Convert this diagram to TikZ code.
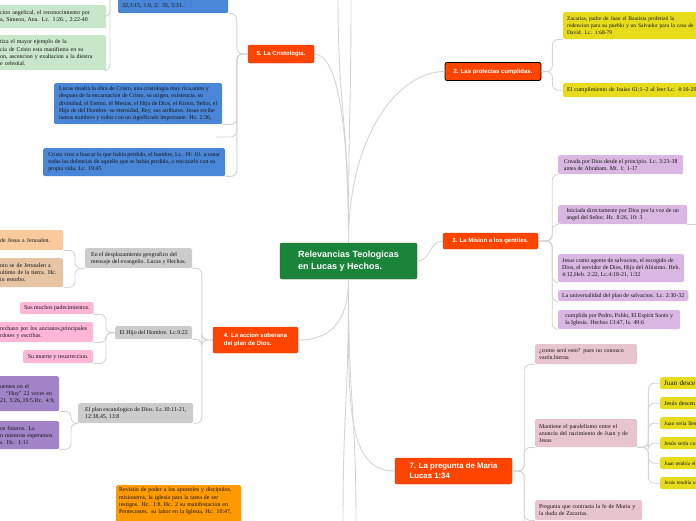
\documentclass[tikz,border=0pt]{standalone}
\usepackage{fontspec}
\setmainfont{Liberation Serif}
\newfontfamily\ramasans{Liberation Sans}
\usepackage{tikz}

\definecolor{cverde}{RGB}{26,132,58}
\definecolor{crama}{RGB}{255,68,0}
\definecolor{cazul}{RGB}{74,134,216}
\definecolor{cmenta}{RGB}{200,230,201}
\definecolor{cmelon}{RGB}{249,203,156}
\definecolor{ccanela}{RGB}{230,196,164}
\definecolor{cgris}{RGB}{204,204,204}
\definecolor{crosa}{RGB}{255,182,214}
\definecolor{cmorado}{RGB}{161,132,199}
\definecolor{cnaranja}{RGB}{255,153,0}
\definecolor{camarillo}{RGB}{230,220,28}
\definecolor{clila}{RGB}{217,183,226}
\definecolor{cmalva}{RGB}{232,196,206}
\definecolor{clinea}{RGB}{212,212,212}
\newcommand{\cardfont}{\fontsize{5.9}{7.2}\selectfont}
\newcommand{\ramafont}{\ramasans\bfseries\fontsize{6}{7.6}\selectfont}
\tikzset{
  card/.style={rectangle,rounded corners=1.5pt,draw=none,anchor=north west,
    align=left,inner xsep=4pt,inner ysep=2.5pt,font=\cardfont,text=black!92},
  rama/.style={rectangle,rounded corners=2pt,fill=crama,draw=crama!80!black,
    text=white,font=\ramafont,align=left,inner sep=3pt},
  centro/.style={rectangle,rounded corners=2pt,fill=cverde,draw=cverde!75!black,
    text=white,align=left,inner xsep=10pt,minimum width=137pt,minimum height=36pt,
    font=\ramasans\bfseries\fontsize{9}{12}\selectfont},
  conn/.style={draw=clinea,line width=0.9pt,rounded corners=6pt}
}

\begin{document}
\begin{tikzpicture}[x=1pt,y=-1pt]
  \useasboundingbox (0,0) rectangle (696,520);
  % centro y ramas principales
  \node[centro] (cen) at (348.5,261) {Relevancias Teologicas\\en Lucas y Hechos.};
  \node[rama,minimum width=66pt,minimum height=18pt] (cris) at (281,54) {5. La Cristologia.};
  \node[rama,draw=black,line width=0.8pt,minimum width=96pt,minimum height=18pt] (prof) at (493,71.5) {2. Las profecias cumplidas.};
  \node[rama,minimum width=95pt,minimum height=16pt] (mis) at (490.5,241) {3. La Mision a los gentiles.};
  \node[rama,minimum width=85pt,minimum height=26pt] (acc) at (255.5,340) {4. La accion soberana\\del plan de Dios.};
  \node[rama,font=\ramasans\bfseries\fontsize{7.8}{10}\selectfont,minimum width=117pt,minimum height=26pt] (preg) at (453.5,471) {7. La pregunta de Maria\\Lucas 1:34};

  % Cristologia
  \node[card,fill=cazul,text width=102pt,minimum height=18pt] (b0) at (118,-5) {\mbox{}\\32,3:15, 1:9, 2: 33, 5:31..};
  \node[card,fill=cazul,minimum width=168pt,minimum height=41pt] (b1) at (54,83) {Lucas resalta la obra de Cristo, una cristologia muy rica,antes y\\despues de la encarnacion de Cristo, su origen, existencia, su\\divinidad, el Eterno, el Mesias, el Hijo de Dios, el Kirios, Señor, el\\Hijo de del Hombre. su eternidad,  Rey, sus atributos.  Jesus recibe\\tantos nombres y todos con un significado importante. Hc. 2:36,};
  \node[card,fill=cazul,minimum width=182pt,minimum height=28pt] (b2) at (43,148) {Cristo vino a buscar lo que habia perdido, el hombre, Lc. 19: 10.  a sanar\\todas las dolencias de aquello que se habia perdido, a rescatarlo con su\\propia vida. Lc. 19:45};
  \coordinate (vacio) at (216,137);
  \node[card,fill=cmenta,text width=102pt,minimum height=23pt] (g1) at (-4,5) {cion angelical, el reconocimiento por\\a, Simeon, Ana. Lc. 1:26..,  2:22-40};
  \node[card,fill=cmenta,text width=102pt,minimum height=35pt] (g2) at (-4,35) {tiza el mayor ejemplo de la\\cia de Cristo esta manifiesta en su\\on, ascencion y exaltacion a la diestra\\e celestial.};

  % accion soberana
  \node[card,fill=cgris,minimum width=107pt,minimum height=20pt] (geo) at (85,248) {En el desplazamiento geografico del\\mensaje del evangelio. Lucas y Hechos.};
  \node[card,fill=cmelon,text width=59pt,minimum height=20pt] (o1) at (-4,230) {de Jesus a Jerusalen.};
  \node[card,fill=ccanela,text width=59pt,minimum height=29pt] (o2) at (-4,258) {nto se de Jerusalen a\\ultimo de la tierra. Hc.\\in estorbo.};
  \node[card,fill=cgris,minimum width=77pt,minimum height=13pt] (hijo) at (115,326) {El Hijo del Hombre. Lc.9:22};
  \node[card,fill=crosa,minimum width=73pt,minimum height=12pt] (p1) at (20,302) {Sus muchos padecimientos.};
  \node[card,fill=crosa,text width=89pt,minimum height=20pt] (p2) at (-4,322) {rechazo por los ancianos,principales\\rdotes y escribas.};
  \node[card,fill=crosa,minimum width=70pt,minimum height=13pt] (p3) at (23,350) {Su muerte y resurreccion.};
  \node[card,fill=cgris,minimum width=115pt,minimum height=20pt] (plan) at (78,403) {El plan escatologico de Dios. Lc.10:11-21,\\12:38,45, 13:8};
  \node[card,fill=cmorado,inner xsep=3pt,text width=56pt,minimum height=35pt] (u1) at (-3,376) {uentes en el\\\hspace*{6pt}“Hoy” 22 veces en\\21, 5:26,,19:5,Hc. 4:9,};
  \node[card,fill=cmorado,inner xsep=3pt,text width=56pt,minimum height=28pt] (u2) at (-3,421) {os futuros. La\\n mientras esperamos\\s. Hc. 1:11};
  \node[card,fill=cnaranja,inner xsep=3pt,text width=119pt,text depth=40pt] (rev) at (116,485) {Revistio de poder a los apostoles y discipulos,\\misioneros, la iglesia para la tarea de ser\\testigos. Hc. 1:8, Hc. 2  su manifestacion en\\Pentecostes.  su labor en  la Iglesia, Hc. 10:47,};

  % profecias
  \node[card,fill=camarillo,font=\fontsize{5.55}{7.2}\selectfont,text width=140pt,minimum height=27pt] (z1) at (563,12) {Zacarias, padre de Juan el Bautista profetizó la\\redencion para su pueblo y un Salvador para la casa de\\David.  Lc. 1:68-79};
  \node[card,fill=camarillo,text width=140pt,minimum height=14pt] (z2) at (563,83) {El cumplimiento de Isaias 61:1--2  al leer Lc. 4:16-20};

  % mision
  \node[card,fill=clila,minimum width=125pt,minimum height=19pt] (l1) at (558,155) {Creada por Dios desde el principio. Lc. 3:23-38\\antes de Abraham. Mt. 1: 1-17};
  \node[card,fill=clila,minimum width=129pt,minimum height=19pt] (l2) at (558,205) {Iniciada directamente por Dios por la voz de un\\angel del Señor. Hc. 8:26, 10: 3};
  \node[card,fill=clila,minimum width=124pt,minimum height=28pt] (l3) at (558,254) {Jesus como agente de salvacion, el escogido de\\Dios, el servidor de Dios, Hijo del Altisimo. Heb.\\4:12,Heb. 2:22, Lc.4:18-21,  1:32};
  \node[card,fill=clila,minimum width=129pt,minimum height=11pt] (l4) at (558,290) {La universalidad del plan de salvacion. Lc. 2:30-32};
  \node[card,fill=clila,minimum width=122pt,minimum height=19pt] (l5) at (558,310) {cumplida por Pedro, Pablo, El Espirit Santo y\\la Iglesia. Hechos 13:47, Is. 49:6};
  \coordinate (fuera) at (704,224);

  % pregunta de Maria
  \node[card,fill=cmalva,text width=94pt,minimum height=20pt] (r1) at (535,344) {¿como será esto? pues no conozco\\varón.bierna};
  \node[card,fill=cmalva,text width=94pt,minimum height=28pt] (r2) at (535,419) {Mantiene el paralelismo entre el\\anuncio del nacimiento de Juan y de\\Jesus};
  \node[card,fill=cmalva,text width=99pt,minimum height=20pt] (r3) at (535,500) {Pregunta que contrasta la fe de Maria y\\la duda de Zacarias.};
  \coordinate (pregfuera) at (535,540);
  \node[card,fill=camarillo,font=\fontsize{7.1}{8}\selectfont,inner ysep=1pt,text width=46pt,minimum height=12pt] (y1) at (660,377) {Juan desce};
  \node[card,fill=camarillo,font=\fontsize{6}{8}\selectfont,inner ysep=1pt,text width=46pt,minimum height=12pt] (y2) at (660,397) {Jesús descen};
  \node[card,fill=camarillo,font=\fontsize{5.5}{8}\selectfont,inner ysep=1pt,text width=46pt,minimum height=12pt] (y3) at (660,417) {Juan sería llen};
  \node[card,fill=camarillo,font=\fontsize{5.6}{8}\selectfont,inner ysep=1pt,text width=46pt,minimum height=12pt] (y4) at (660,437) {Jesús sería co};
  \node[card,fill=camarillo,font=\fontsize{5.25}{8}\selectfont,inner ysep=1pt,text width=46pt,minimum height=12pt] (y5) at (660,457) {Juan tendría el};
  \node[card,fill=camarillo,font=\fontsize{5.2}{8}\selectfont,inner ysep=1pt,text width=46pt,minimum height=12pt] (y6) at (660,477) {Jesús tendría u};

  % conectores desde el centro
  \coordinate (arr1) at (338,-4);
  \coordinate (arr2) at (351,-4);
  \coordinate (aba1) at (343,524);
  \coordinate (aba2) at (356,524);
  \draw[conn] (cen.north) .. controls +(0,-110) and +(25,0) .. (cris.east);
  \draw[conn] (cen.north) .. controls +(0,-110) and +(-45,0) .. (prof.west);
  \draw[conn] (cen.north) .. controls +(0,-130) and +(0,120) .. (arr1);
  \draw[conn] (cen.north) .. controls +(0,-130) and +(0,120) .. (arr2);
  \draw[conn] (cen.east) .. controls +(14,0) and +(-14,0) .. (mis.west);
  \draw[conn] (cen.south) .. controls +(0,45) and +(30,0) .. (acc.east);
  \draw[conn] (cen.south) .. controls +(0,120) and +(-50,0) .. (preg.west);
  \draw[conn] (cen.south) .. controls +(0,130) and +(0,-120) .. (aba1);
  \draw[conn] (cen.south) .. controls +(0,130) and +(0,-120) .. (aba2);

  % conectores de las ramas
  \foreach \n in {b0.south east,b1.south east,vacio,b2.south east}
    \draw[conn] (cris.west) -- ++(-11,0) |- (\n);
  \draw[conn] (b0.north west) -- ++(-8,0) |- (g1.east);
  \draw[conn] (b0.north west) -- ++(-8,0) |- (g2.south east);
  \foreach \n in {geo,hijo,plan}
    \draw[conn] (acc.west) -- ++(-11,0) |- (\n.south east);
  \foreach \n in {o1,o2}
    \draw[conn] (geo.south west) -- ++(-10,0) |- (\n.south east);
  \foreach \n in {p1,p2,p3}
    \draw[conn] (hijo.west) -- ++(-9,0) |- (\n.south east);
  \foreach \n in {u1,u2}
    \draw[conn] (plan.south west) -- ++(-7,0) |- (\n.south east);
  \draw[conn] (prof.east) -- ++(11,0) |- (z1.south west);
  \draw[conn] (prof.east) -- ++(11,0) |- (z2.west);
  \foreach \n in {l1,l2,l3,l4,l5}
    \draw[conn] (mis.east) -- ++(14,0) |- (\n.south west);
  \draw[conn] (l2.south east) -- (l2.south east -| fuera);
  \foreach \n in {r1.south west,r2.south west,r3.south west,pregfuera}
    \draw[conn] (preg.east) -- ++(12,0) |- (\n);
  \foreach \n in {y1,y2,y3,y4,y5,y6}
    \draw[conn] (r2.south east) -- ++(11,0) |- (\n.west);
\end{tikzpicture}
\end{document}
